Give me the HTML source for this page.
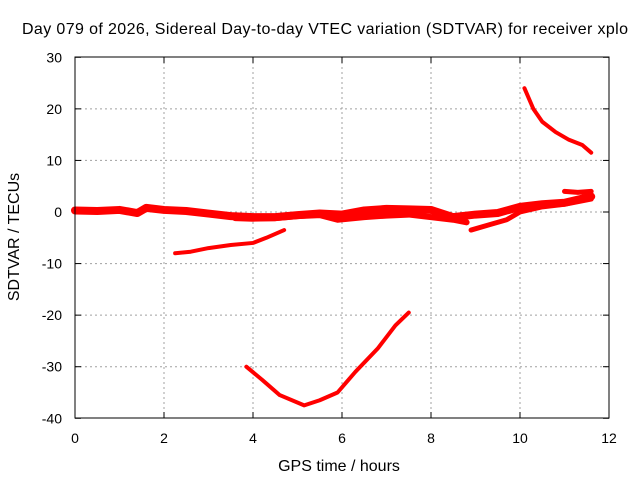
<!DOCTYPE html>
<html><head><meta charset="utf-8"><style>
body{margin:0;background:#fff}
svg{display:block;font-family:"Liberation Sans",sans-serif;font-size:14px}
.big{font-size:16px}
</style></head><body>
<svg id="c" width="640" height="480">
<text class="big" x="325" y="34" text-anchor="middle" textLength="606">Day 079 of 2026, Sidereal Day-to-day VTEC variation (SDTVAR) for receiver xplo</text>
<text class="big" x="339" y="471" text-anchor="middle">GPS time / hours</text>
<text class="big" transform="translate(19,237) rotate(-90)" text-anchor="middle">SDTVAR / TECUs</text>
<g id="grid"></g><g id="series"></g>
<rect x="75" y="57" width="534" height="361" fill="none" stroke="#000"/>
</svg>
<script>
const xTicks=[0,2,4,6,8,10,12];
const yTicks=[30,20,10,0,-10,-20,-30,-40];
const band1T=[0,0.5,1,1.4,1.6,2,2.5,3,3.5,4,4.5,5,5.5,6,6.5,7,7.5,8,8.5,9,9.5,10,10.5,11,11.6];
const band1V=[0.3,0.2,0.4,-0.2,0.8,0.4,0.2,-0.3,-0.8,-1,-1,-0.6,-0.3,-0.5,0.3,0.6,0.5,0.4,-1,-0.5,-0.2,1,1.5,1.8,3];
const band2T=[3.6,4,4.5,5,5.5,5.9,6.5,7,7.5,8,8.5,8.8];
const band2V=[-1.2,-1.3,-1.2,-0.8,-0.6,-1.5,-1,-0.7,-0.5,-1,-1.5,-2];
const band3T=[8.9,9.3,9.7,10,10.5,11,11.6];
const band3V=[-3.5,-2.5,-1.5,0,1,1.5,2.5];
const band4T=[11,11.3,11.6];
const band4V=[4,3.8,4];
const seg1T=[2.25,2.6,3,3.5,4,4.3,4.7];
const seg1V=[-8,-7.7,-7,-6.4,-6,-5,-3.5];
const dipT=[3.85,4.2,4.6,5.15,5.5,5.9,6.3,6.8,7.2,7.5];
const dipV=[-30,-32.5,-35.5,-37.5,-36.5,-35,-31,-26.5,-22,-19.5];
const upT=[10.1,10.3,10.5,10.8,11.1,11.4,11.6];
const upV=[24,20,17.5,15.5,14,13,11.5];
const dotT=[0.05];const dotV=[-2];
const X=t=>75+t*534/12, Y=v=>212-v*361/70;
const NS="http://www.w3.org/2000/svg";
const grid=document.getElementById('grid'),ser=document.getElementById('series');
function mk(tag,a,p){const e=document.createElementNS(NS,tag);for(const k in a)e.setAttribute(k,a[k]);p.appendChild(e);return e;}
xTicks.forEach(t=>{const x=X(t);
 if(t>0&&t<12){const l=mk('line',{x1:x,x2:x,y1:57,y2:418,stroke:'#a0a0a0','stroke-dasharray':'2,3'},grid);
 
 }
 mk('line',{x1:x,x2:x,y1:418,y2:412,stroke:'#000'},grid);mk('line',{x1:x,x2:x,y1:57,y2:63,stroke:'#000'},grid);
 const tx=mk('text',{x:x,y:443,'text-anchor':'middle'},grid);tx.textContent=t;
 
 });
yTicks.forEach(v=>{const y=Y(v);
 if(v<30&&v>-40){const l=mk('line',{x1:75,x2:609,y1:y,y2:y,stroke:'#a0a0a0','stroke-dasharray':'2,3'},grid);
 
 }
 mk('line',{x1:75,x2:81,y1:y,y2:y,stroke:'#000'},grid);mk('line',{x1:609,x2:603,y1:y,y2:y,stroke:'#000'},grid);
 const tx=mk('text',{x:62,y:y+5,'text-anchor':'end'},grid);tx.textContent=v;
 
 });
function line(T,V,w,name){const pts=T.map((t,i)=>X(t)+','+Y(V[i])).join(' ');
 const p=mk('polyline',{points:pts,fill:'none',stroke:'#f00','stroke-width':w,'stroke-linejoin':'round','stroke-linecap':'round'},ser);
 
 }
line(band1T,band1V,8,'series-band-main');
line(band2T,band2V,6,'series-band-lower');
line(band3T,band3V,5,'series-band-rising');
line(band4T,band4V,5,'series-band-top-right');
line(seg1T,seg1V,4,'series-segment-minus8');
line(dipT,dipV,4,'series-dip');
line(upT,upV,4,'series-upper-right');
line(dotT,dotV,5,'series-start-dot');
</script>
</body></html>
